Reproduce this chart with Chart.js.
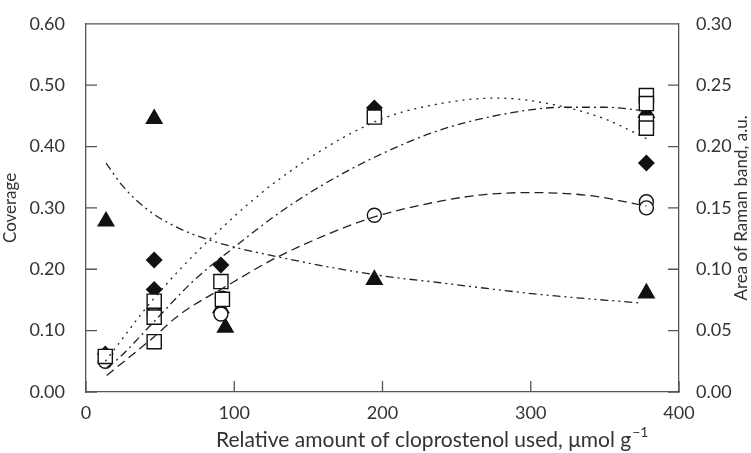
<!DOCTYPE html>
<html><head><meta charset="utf-8">
<script src="https://cdn.jsdelivr.net/npm/chart.js@4.4.0/dist/chart.umd.min.js"></script>
<style>html,body{margin:0;padding:0;background:#fff}</style>
</head><body>
<canvas id="c" width="751" height="453"></canvas>
<script>
// ---- data ----
const xTitle = "Relative amount of cloprostenol used, \u03bcmol g";
const xTitleSup = "\u22121";
const yLeftTitle = "Coverage";
const yRightTitle = "Area of Raman band, a.u.";

const squaresX = [13, 46, 46, 46, 91, 92, 194.5, 378, 378, 378, 378];
const squaresY = [0.058, 0.148, 0.122, 0.082, 0.18, 0.151, 0.448, 0.483, 0.47, 0.44, 0.43];

const circlesX = [13, 46, 46, 92, 91, 194.5, 378, 378];
const circlesY = [0.05, 0.135, 0.127, 0.153, 0.127, 0.288, 0.31, 0.30];

const diamondsX = [13, 46, 46, 91, 194.5, 378];
const diamondsY = [0.062, 0.215, 0.167, 0.207, 0.463, 0.373];

// triangles: Raman band area (right axis)
const trianglesX = [13.5, 46, 91, 94, 194.5, 378, 378];
const trianglesY = [0.139, 0.2225, 0.0685, 0.0525, 0.0915, 0.2275, 0.0805];

// fitted curves
const dottedX = [13, 46, 84, 131, 194.5, 239, 277, 318, 350, 378];
const dottedY = [0.05, 0.153, 0.25, 0.348, 0.44, 0.47, 0.479, 0.467, 0.445, 0.413];

const dashDotX = [14, 22, 46, 72, 100, 131, 160, 195, 239, 280, 322, 350, 378];
const dashDotY = [0.04, 0.055, 0.115, 0.18, 0.236, 0.293, 0.338, 0.383, 0.427, 0.452, 0.464, 0.464, 0.458];

const longDashX = [14, 46, 62, 100, 126, 160, 194, 239, 270, 300, 340, 378];
const longDashY = [0.027, 0.09, 0.124, 0.18, 0.216, 0.254, 0.285, 0.311, 0.322, 0.325, 0.32, 0.303];

// decreasing curve (right axis)
const dashDotDotX = [13.5, 25, 41, 60, 84, 130, 195, 239, 306, 374];
const dashDotDotY = [0.1865, 0.1675, 0.149, 0.135, 0.1235, 0.11, 0.0955, 0.089, 0.0795, 0.0725];

const xTickValues = [0, 100, 200, 300, 400];
const leftTickValues = [0, 0.1, 0.2, 0.3, 0.4, 0.5, 0.6];
const rightTickValues = [0, 0.05, 0.1, 0.15, 0.2, 0.25, 0.3];

const pts = (xs, ys) => xs.map((x, i) => ({x: x, y: ys[i]}));

const FONT = 'Lato, "Open Sans", sans-serif';
const TXT = '#333';
const AX = '#555';

const curve = (xs, ys, dash, axis) => ({
  type: 'line', data: pts(xs, ys), yAxisID: axis,
  borderColor: '#222', borderWidth: 1.3, borderDash: dash,
  pointRadius: 0, fill: false, cubicInterpolationMode: 'monotone', order: 0
});
const marks = (xs, ys, style, r, fillCol, axis) => ({
  type: 'scatter', data: pts(xs, ys), yAxisID: axis,
  pointStyle: style, pointRadius: r, pointHoverRadius: r,
  pointBackgroundColor: fillCol, pointBorderColor: '#111', pointBorderWidth: 1.4,
  showLine: false, order: 1
});

const framePlugin = {
  id: 'frame',
  afterDraw(chart) {
    const ctx = chart.ctx, a = chart.chartArea;
    const sx = chart.scales.x, sl = chart.scales.y, sr = chart.scales.y2;
    ctx.save();
    ctx.strokeStyle = AX; ctx.lineWidth = 1.3;
    ctx.beginPath();
    ctx.moveTo(a.left, a.top); ctx.lineTo(a.right, a.top);
    const tl = 11;
    xTickValues.forEach(v => { const p = sx.getPixelForValue(v); ctx.moveTo(p, a.bottom); ctx.lineTo(p, a.bottom - tl); });
    leftTickValues.forEach(v => { const p = sl.getPixelForValue(v); ctx.moveTo(a.left, p); ctx.lineTo(a.left + tl, p); });
    rightTickValues.forEach(v => { const p = sr.getPixelForValue(v); ctx.moveTo(a.right, p); ctx.lineTo(a.right - tl, p); });
    ctx.stroke();
    // x title with superscript
    ctx.fillStyle = TXT;
    ctx.textBaseline = 'middle';
    ctx.textAlign = 'left';
    ctx.font = '21px ' + FONT;
    const w1 = ctx.measureText(xTitle).width;
    const x0 = 216, cy = 440;
    ctx.fillText(xTitle, x0, cy);
    ctx.font = '14px ' + FONT;
    ctx.fillText(xTitleSup, x0 + w1 + 1, cy - 8);
    // right title, reading bottom-to-top
    ctx.font = '17px ' + FONT;
    ctx.translate(742, (a.top + a.bottom) / 2);
    ctx.rotate(-Math.PI / 2);
    ctx.textAlign = 'center';
    ctx.fillText(yRightTitle, 0, 0);
    ctx.restore();
  }
};

new Chart(document.getElementById('c'), {
  data: {
    datasets: [
      curve(dottedX, dottedY, [2, 5], 'y'),
      curve(dashDotX, dashDotY, [8, 4, 2, 4], 'y'),
      curve(longDashX, longDashY, [9, 5], 'y'),
      curve(dashDotDotX, dashDotDotY, [8, 4, 2, 4, 2, 4], 'y2'),
      marks(squaresX, squaresY, 'rect', 10, '#fff', 'y'),
      marks(circlesX, circlesY, 'circle', 7, '#fff', 'y'),
      marks(diamondsX, diamondsY, 'rectRot', 7.5, '#111', 'y'),
      marks(trianglesX, trianglesY, 'triangle', 9, '#111', 'y2')
    ]
  },
  options: {
    responsive: false, animation: false, devicePixelRatio: 1,
    layout: {padding: {top: 19, left: 0, right: 0, bottom: 0}},
    plugins: {legend: {display: false}, tooltip: {enabled: false}},
    scales: {
      x: {
        type: 'linear', min: 0, max: 400, position: 'bottom',
        grid: {display: false}, border: {display: true, color: AX, width: 1.3},
        ticks: {stepSize: 100, padding: 2, color: TXT, font: {family: FONT, size: 18}},
        afterFit: s => { s.height = 61; }
      },
      y: {
        type: 'linear', position: 'left', min: 0, max: 0.6,
        grid: {display: false}, border: {display: true, color: AX, width: 1.3},
        ticks: {stepSize: 0.1, padding: 13, color: TXT, font: {family: FONT, size: 18},
                callback: v => v.toFixed(2)},
        title: {display: true, text: yLeftTitle, color: TXT, font: {family: FONT, size: 17}, padding: 0},
        afterFit: s => { s.width = 86; }
      },
      y2: {
        type: 'linear', position: 'right', min: 0, max: 0.3,
        grid: {display: false}, border: {display: true, color: AX, width: 1.3},
        ticks: {stepSize: 0.05, padding: 9, color: TXT, font: {family: FONT, size: 18},
                callback: v => v.toFixed(2)},
        afterFit: s => { s.width = 72; }
      }
    }
  },
  plugins: [framePlugin]
});
</script>
</body></html>
